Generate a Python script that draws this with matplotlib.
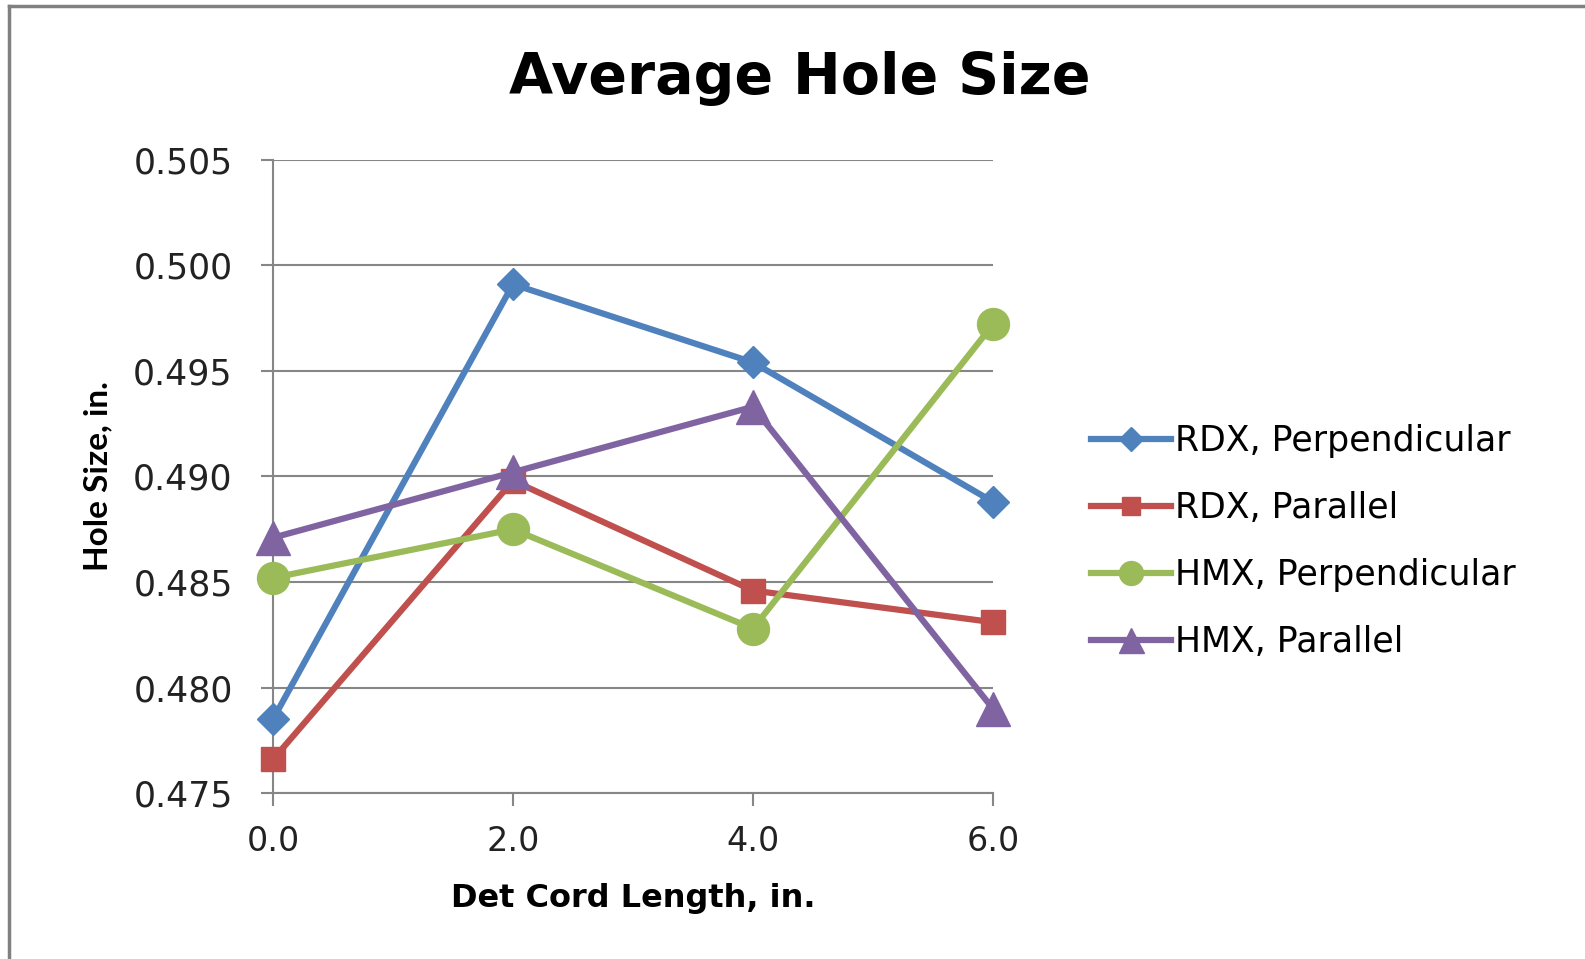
import matplotlib.pyplot as plt
from matplotlib.lines import Line2D

cord_length = [0.0, 2.0, 4.0, 6.0]

rdx_perp = [0.4785, 0.4991, 0.4954, 0.4888]
rdx_par = [0.4766, 0.4898, 0.4846, 0.4831]
hmx_perp = [0.4852, 0.4875, 0.4828, 0.4972]
hmx_par = [0.4871, 0.4902, 0.4933, 0.4790]

series = [
    ("RDX, Perpendicular", rdx_perp, "#4F81BD", "D", 16),
    ("RDX, Parallel", rdx_par, "#C0504D", "s", 17),
    ("HMX, Perpendicular", hmx_perp, "#9BBB59", "o", 23),
    ("HMX, Parallel", hmx_par, "#8064A2", "^", 24),
]

yticks = [0.475, 0.480, 0.485, 0.490, 0.495, 0.500, 0.505]
xticks = [0.0, 2.0, 4.0, 6.0]

fig = plt.figure(figsize=(15.85, 9.59), dpi=100)
ax = fig.add_axes([0.1722, 0.1728, 0.4543, 0.6607])

for label, vals, col, mk, ms in series:
    ax.plot(cord_length, vals, color=col, lw=4.5, marker=mk, markersize=ms,
            label=label, clip_on=False, zorder=3)

ax.set_xlim(0, 6)
ax.set_ylim(0.475, 0.505)
ax.set_yticks(yticks)
ax.set_yticklabels([f"{v:.3f}" for v in yticks])
ax.set_xticks(xticks)
ax.set_xticklabels([f"{v:.1f}" for v in xticks])

ax.grid(axis="y", color="#868686", lw=1.5, zorder=0)
ax.set_axisbelow(True)
for s in ["top", "right"]:
    ax.spines[s].set_visible(False)
for s in ["left", "bottom"]:
    ax.spines[s].set_color("#868686")
    ax.spines[s].set_linewidth(1.5)

ax.tick_params(axis="both", colors="#868686", labelcolor="#222222",
               width=1.5, length=9, labelsize=24)
ax.tick_params(axis="y", labelsize=25, pad=20)
ax.tick_params(axis="x", pad=14)

fig.text(0.5045, 0.902, "Average Hole Size", fontsize=41, fontweight="bold",
         ha="center", va="baseline")
ax.set_xlabel("Det Cord Length, in.", fontsize=23, fontweight="bold", labelpad=18)
ax.set_ylabel("Hole Size, in.", fontsize=24, fontweight="bold",
              family=["Lato", "DejaVu Sans"], labelpad=15)

ax.legend(loc="center left", bbox_to_anchor=(1.093, 0.397), frameon=False,
          fontsize=25, handlelength=2.3, handletextpad=0.1, labelspacing=0.95,
          markerscale=0.75)

# gray outer frame
fig.add_artist(Line2D([0.0057, 0.0057], [0, 0.994], transform=fig.transFigure,
                      color="#808080", lw=2.5))
fig.add_artist(Line2D([0.0057, 1], [0.994, 0.994], transform=fig.transFigure,
                      color="#808080", lw=2.5))

plt.savefig("out.png", dpi=100)
